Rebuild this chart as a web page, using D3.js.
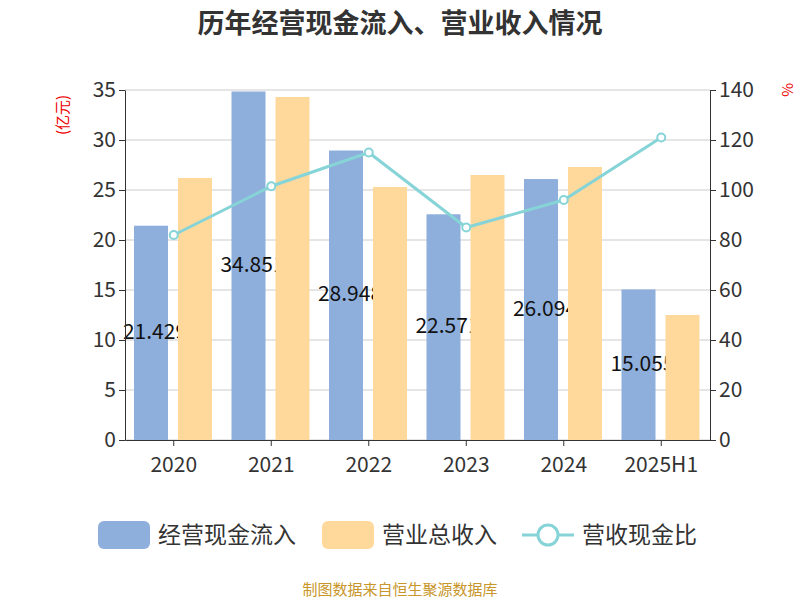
<!DOCTYPE html>
<html><head><meta charset="utf-8">
<script src="https://cdn.jsdelivr.net/npm/d3@7"></script>
<style>body{margin:0;background:#fff}</style></head>
<body><svg id="c" width="800" height="600"></svg>
<script>
const categories=["2020","2021","2022","2023","2024","2025H1"];
const cashIn=[21.429,34.85,28.948,22.571,26.094,15.055];
const cashInLabels=["21.429","34.851","28.948","22.571","26.094","15.055"];
const revenue=[26.2,34.3,25.3,26.5,27.3,12.5];
const ratio=[82,101.5,115,85,96,121];
const leftTicks=[0,5,10,15,20,25,30,35];
const rightTicks=[0,20,40,60,80,100,120,140];

const svg=d3.select("#c");
const font="'Noto Sans CJK SC','Noto Sans',sans-serif";
const L=125,R=710,T=90,B=440;
const x=d3.scaleBand().domain(categories).range([L,R]);
const y=d3.scaleLinear().domain([0,35]).range([B,T]);
const y2=d3.scaleLinear().domain([0,140]).range([B,T]);

svg.append("text").attr("x",400).attr("y",33).attr("text-anchor","middle").attr("font-family",font)
 .attr("font-size",27).attr("font-weight","bold").attr("fill","#333").text("历年经营现金流入、营业收入情况");

svg.append("g").selectAll("line").data(leftTicks).join("line")
 .attr("x1",L).attr("x2",R).attr("y1",d=>y(d)).attr("y2",d=>y(d)).attr("stroke","#ccc");

const bw=34;
svg.append("g").selectAll("rect").data(cashIn).join("rect")
 .attr("x",(d,i)=>x(categories[i])+9).attr("y",d=>y(d)).attr("width",bw).attr("height",d=>B-y(d)).attr("fill","#8eaedb");
svg.append("g").selectAll("text").data(cashIn).join("text")
 .attr("x",(d,i)=>x(categories[i])+9+bw/2+4).attr("y",d=>(y(d)+B)/2+6).attr("text-anchor","middle")
 .attr("font-family",font).attr("font-size",21).attr("fill","#111").text((d,i)=>cashInLabels[i]);
svg.append("g").selectAll("rect").data(revenue).join("rect")
 .attr("x",(d,i)=>x(categories[i])+9+bw+10).attr("y",d=>y(d)).attr("width",bw).attr("height",d=>B-y(d)).attr("fill","#fed99b");

const line=d3.line().x((d,i)=>x(categories[i])+x.bandwidth()/2).y(d=>y2(d));
svg.append("path").datum(ratio).attr("d",line).attr("fill","none").attr("stroke","#86d4d7").attr("stroke-width",3);
svg.append("g").selectAll("circle").data(ratio).join("circle")
 .attr("cx",(d,i)=>x(categories[i])+x.bandwidth()/2).attr("cy",d=>y2(d)).attr("r",4)
 .attr("fill","#fff").attr("stroke","#86d4d7").attr("stroke-width",2);

const ax=svg.append("g").attr("transform",`translate(0,${B})`).call(d3.axisBottom(x).tickSize(6).tickSizeOuter(0));
ax.selectAll("text").attr("font-size",21).attr("font-family",font).attr("fill","#333").attr("dy","1.1em");
const al=svg.append("g").attr("transform",`translate(${L},0)`).call(d3.axisLeft(y).tickValues(leftTicks).tickSize(6).tickSizeOuter(0));
al.selectAll("text").attr("font-size",21).attr("font-family",font).attr("fill","#333");
const ar=svg.append("g").attr("transform",`translate(${R},0)`).call(d3.axisRight(y2).tickValues(rightTicks).tickSize(6).tickSizeOuter(0));
ar.selectAll("text").attr("font-size",21).attr("font-family",font).attr("fill","#333");
svg.selectAll(".domain").attr("stroke","#333");
svg.selectAll(".tick line").attr("stroke","#333");

svg.append("text").attr("transform","translate(68,115) rotate(-90)").attr("text-anchor","middle")
 .attr("font-family",font).attr("font-size",15).attr("fill","#e00").text("(亿元)");
svg.append("text").attr("transform","translate(782,90) rotate(90)").attr("text-anchor","middle")
 .attr("font-family",font).attr("font-size",15).attr("fill","#e00").text("%");

const lg=svg.append("g").attr("font-family",font).attr("font-size",23).attr("fill","#333");
lg.append("rect").attr("x",98).attr("y",521).attr("width",52).attr("height",28).attr("rx",6).attr("fill","#8eaedb");
lg.append("text").attr("x",158).attr("y",543).text("经营现金流入");
lg.append("rect").attr("x",322).attr("y",521).attr("width",52).attr("height",28).attr("rx",6).attr("fill","#fed99b");
lg.append("text").attr("x",382).attr("y",543).text("营业总收入");
lg.append("line").attr("x1",522).attr("x2",574).attr("y1",535).attr("y2",535).attr("stroke","#86d4d7").attr("stroke-width",3);
lg.append("circle").attr("cx",548).attr("cy",535).attr("r",10).attr("fill","#fff").attr("stroke","#86d4d7").attr("stroke-width",3);
lg.append("text").attr("x",582).attr("y",543).text("营收现金比");

svg.append("text").attr("x",400).attr("y",595).attr("text-anchor","middle").attr("font-family",font)
 .attr("font-size",15).attr("fill","#c8962a").text("制图数据来自恒生聚源数据库");
</script></body></html>
